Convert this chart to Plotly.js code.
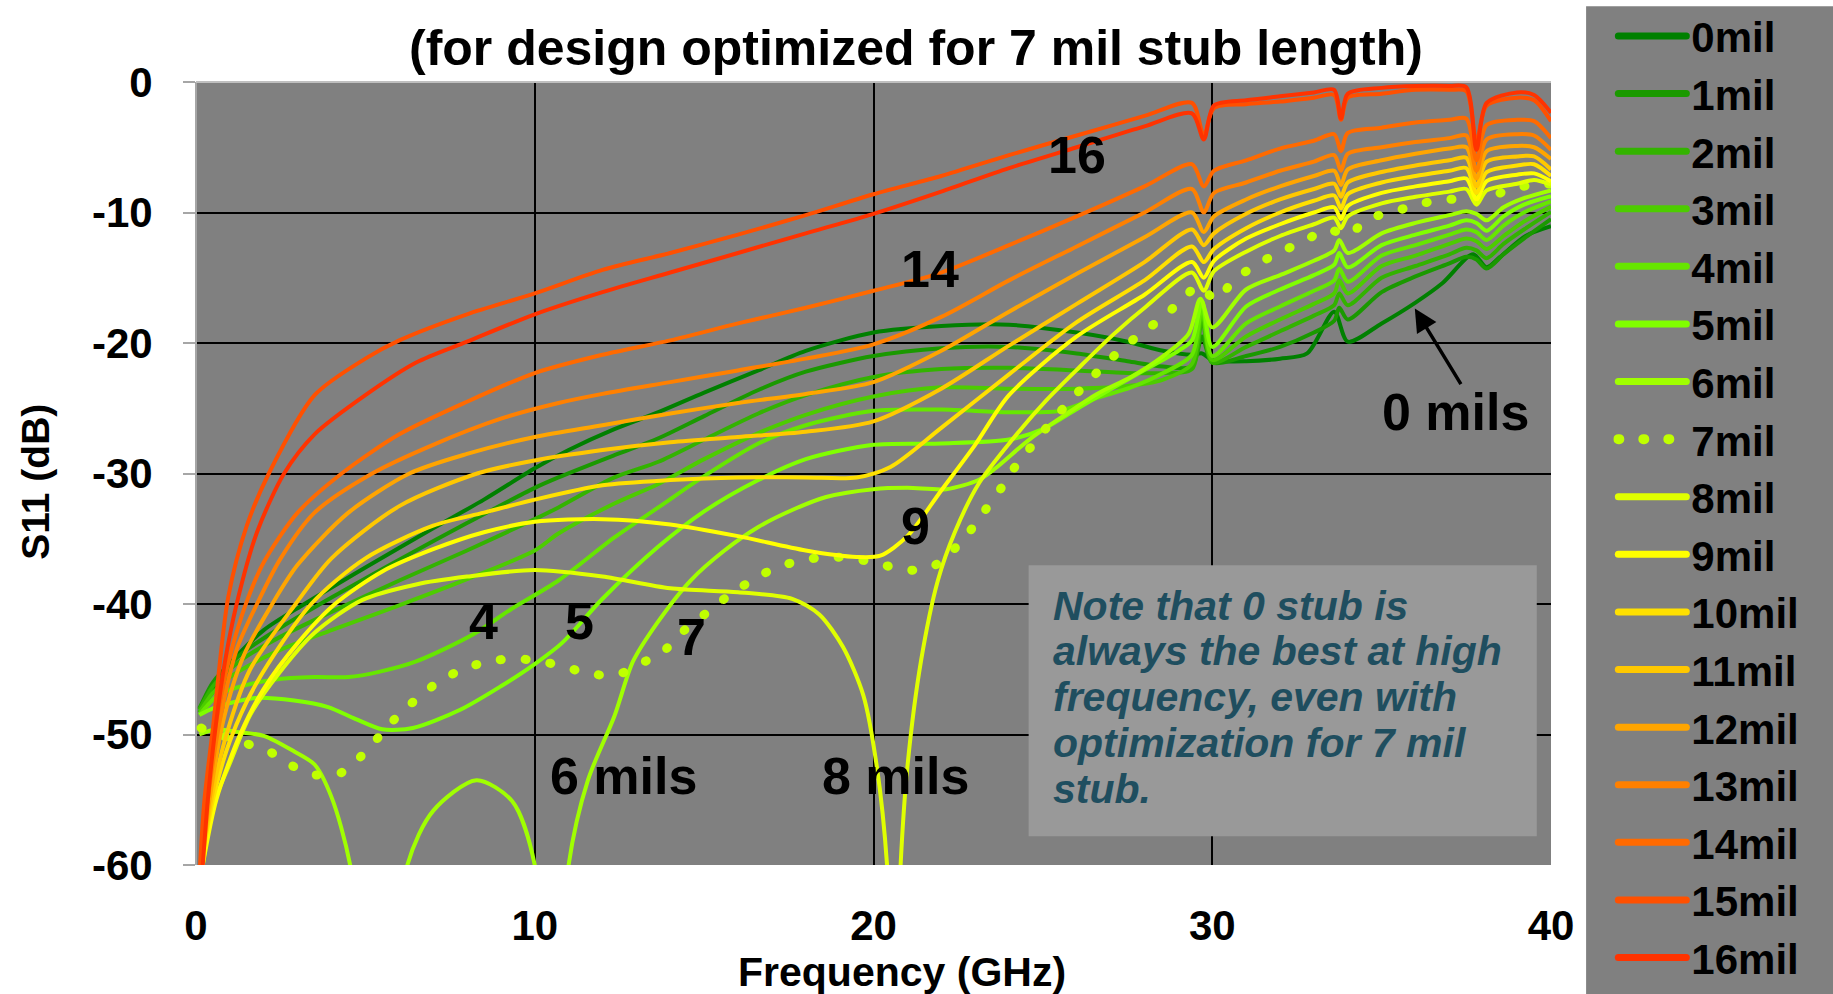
<!DOCTYPE html>
<html>
<head>
<meta charset="utf-8">
<script src="https://cdn.plot.ly/plotly-3.0.1.min.js"></script>
<style>
  html, body { margin: 0; padding: 0; background: #ffffff; }
  #chart { width: 1833px; height: 994px; }
  .legend .traces path.js-line { stroke-width: 7px !important; stroke-linecap: round; }
  .legend .traces:nth-child(8) path.js-line { stroke-width: 10px !important; }
  .scatterlayer .trace:nth-child(8) path.js-line { stroke-linecap: round; }
</style>
</head>
<body>
<div id="chart"></div>
<script>
// ---------- data ----------
const seriesNames = ['0mil','1mil','2mil','3mil','4mil','5mil','6mil','7mil','8mil',
                     '9mil','10mil','11mil','12mil','13mil','14mil','15mil','16mil'];
const seriesColors = ['#008000','#1a9900','#33b300','#4dcc00','#66e600','#80ff00','#a0ff00',
                      '#c0ff00','#e0ff00','#ffff00','#ffe000','#ffc800','#ffa500','#ff8000',
                      '#ff6a00','#ff5000','#ff3300'];

const freq0 = [0.1,0.3,0.7,1.2,2,3.2,5,7,8.5,10,11,12.35,13.65,15,16.6,18,20,22,24,26,27.5,28.55,29.4,29.7,30.0,31,32,32.8,33.6,34.0,35,36,36.8,37.7,38.1,38.5,39.25,40];
const s11_0 = [-48.3,-47.5,-45.6,-44.0,-42.0,-40.0,-37.2,-34.2,-32.0,-29.6,-28.2,-26.6,-25.3,-23.8,-22.1,-20.6,-19.2,-18.7,-18.6,-19.2,-19.9,-20.6,-20.9,-20.8,-21.3,-21.4,-21.2,-20.8,-17.6,-19.9,-18.5,-16.9,-15.4,-13.2,-14.2,-13.4,-11.8,-11.05];

const freqLow = [0.1,0.5,1,1.5,2.5,4,6,8,10,10.7,12.35,13.65,15,16.6,18,20,22,24,26,27.5,28.55,29.4,29.7,30.0,31,32,33,33.6,33.75,34.0,35,36,37,37.5,37.8,38.1,38.6,39.2,40];
const s11_1 = [-48,-46,-44.6,-43.5,-41.8,-39.5,-36.6,-33.8,-31.1,-30.3,-28.6,-27.3,-25.6,-23.6,-22.2,-21.0,-20.4,-20.3,-20.8,-21.4,-21.8,-21.8,-19.5,-21.5,-21.0,-20.3,-19.2,-18.3,-17.3,-18.2,-16.1,-14.9,-13.9,-13.4,-13.6,-14.3,-13.2,-12.0,-10.5];
const s11_2 = [-48.1,-46.3,-45.0,-44.0,-42.5,-40.6,-38.2,-35.9,-33.5,-32.6,-30.3,-29.1,-27.4,-25.4,-24.0,-22.6,-22.0,-21.9,-22.1,-22.3,-22.3,-22.0,-18.2,-21.5,-20.3,-19.1,-17.9,-17.1,-16.2,-17.1,-15.0,-14.1,-13.2,-12.7,-12.9,-13.5,-12.4,-11.3,-9.95];
const s11_3 = [-48.3,-46.8,-45.6,-44.8,-43.5,-42.0,-40.1,-38.1,-35.9,-34.6,-32.3,-30.8,-28.9,-26.9,-25.5,-24.1,-23.4,-23.5,-23.5,-23.3,-22.8,-21.6,-17.6,-21.3,-19.5,-18.2,-17.0,-16.2,-15.2,-16.2,-14.1,-13.3,-12.4,-12.0,-12.2,-12.8,-11.8,-10.7,-9.55];

const freq4 = [0.1,0.7,1.5,2.3,3.5,4.5,5.4,6.5,8.2,9.3,10.7,12.35,13.65,15,16.6,18,20,22,24,25.5,26.6,27.6,28.55,29.4,29.7,30.0,31,32,33,33.6,33.75,34.0,35,36,37,37.5,37.8,38.1,38.6,39.2,40];
const s11_4 = [-48.5,-46.9,-46.2,-45.8,-45.6,-45.6,-45.2,-44.4,-42.3,-40.4,-38.2,-34.9,-32.6,-30.2,-27.7,-26.3,-25.2,-25.1,-25.3,-25.2,-24.2,-23.4,-22.3,-20.9,-17.2,-21.0,-18.5,-17.2,-16.0,-15.2,-14.3,-15.3,-13.3,-12.5,-11.7,-11.3,-11.5,-12.1,-11.0,-10.0,-9.15];

const freq5 = [0.1,0.5,1.0,1.75,2.9,3.9,4.7,5.5,6.4,7.8,9,10,10.8,12,13.65,15,16.6,18,20,22,24,25,26.1,27.1,28.05,29.0,29.4,29.7,30.0,31,32,33,33.6,33.75,34.0,35,36,37,37.5,37.8,38.1,38.6,39.2,40];
const s11_5 = [-48.5,-48.0,-47.6,-47.2,-47.4,-47.9,-48.8,-49.6,-49.5,-48.1,-46.3,-44.6,-43.0,-39.6,-35.6,-32.9,-30.5,-28.9,-27.8,-27.7,-27.4,-26.6,-24.9,-23.4,-22.0,-20.6,-19.8,-16.8,-20.3,-17.2,-15.9,-14.8,-14.0,-13.1,-14.2,-12.5,-11.7,-11.0,-10.6,-10.8,-11.4,-10.3,-9.4,-8.75];

const freq6 = [0.1,0.6,1.2,2.0,2.9,3.5,4.0,4.55,5.4,6.24,7.0,8.28,9.33,10.0,10.5,11.0,11.57,12.35,12.9,13.6,14.6,15.6,16.6,17.6,18.6,20,21,22.15,23.1,23.6,24.6,25.6,26.6,27.6,28.55,29.3,29.65,30.0,31,32,33,33.6,33.75,34.0,35,36,37,37.5,37.8,38.1,38.6,39.2,40];
const s11_6 = [-50,-49.6,-49.8,-50.1,-51.3,-52.3,-54.8,-60,-80,-60,-55.85,-53.5,-55.1,-60,-80,-60,-53.5,-48.6,-44.4,-41.5,-38.2,-35.9,-34.1,-32.8,-31.8,-31.2,-31.1,-31.2,-30.5,-29.6,-27.4,-25.6,-23.9,-22.6,-21.0,-19.3,-16.6,-18.8,-15.9,-14.8,-13.7,-12.9,-12.1,-13.1,-11.6,-10.8,-10.2,-9.9,-10.1,-10.6,-9.6,-8.9,-8.3];

const freq7 = [0.15,1.0,2.16,2.84,3.55,4.31,4.9,5.44,5.98,6.55,7.19,7.89,8.63,9.41,10.2,10.98,11.74,12.5,13.26,13.85,14.4,15.06,15.7,16.34,17.05,17.8,18.6,19.36,20.15,20.93,21.7,22.3,22.85,23.3,23.8,24.2,24.7,25.2,25.74,26.28,26.85,27.44,28.05,28.65,29.24,29.63,30.1,30.63,31.3,31.95,32.7,33.4,34.0,34.6,35.4,36.2,36.9,37.6,38.2,38.9,39.6,40];
const s11_7 = [-49.5,-50.3,-51.3,-52.4,-53.1,-52.9,-51.6,-50.05,-48.5,-47.2,-45.9,-45.0,-44.4,-44.2,-44.4,-44.9,-45.4,-45.35,-44.4,-43.5,-42.05,-40.7,-39.4,-38.3,-37.3,-36.7,-36.4,-36.5,-36.9,-37.4,-37.2,-36.0,-34.4,-32.8,-31.0,-29.4,-27.8,-26.2,-24.6,-23.1,-21.6,-20.2,-19.0,-17.8,-16.3,-15.6,-16.7,-15.2,-14.0,-13.1,-12.2,-11.3,-11.7,-10.5,-9.9,-9.3,-9.0,-9.0,-8.8,-8.1,-7.9,-7.8];

const freq8 = [0.2,0.5,1.0,1.6,2.45,3.5,4.9,6.5,8,10,12,14,16,17.6,18.4,19.1,19.7,20.1,20.4,20.6,20.8,21.0,21.4,21.9,22.4,23.1,24.1,25.1,26.1,27.1,28.05,29.4,29.75,30.05,31,32,33,33.6,33.8,34.0,35,36,37,37.5,37.8,38.1,39,39.5,40];
const s11_8 = [-60,-55.5,-52.2,-48.5,-45.3,-42.2,-39.7,-38.5,-37.9,-37.4,-37.9,-38.8,-39.1,-39.6,-40.8,-43.3,-47.0,-52.5,-60,-75,-60,-52.5,-44.4,-38.2,-34.5,-30.8,-27.4,-24.4,-21.8,-19.3,-17.2,-14.6,-16.0,-14.5,-13.0,-11.8,-10.9,-10.4,-11.2,-10.3,-9.3,-8.8,-8.4,-8.2,-9.4,-8.3,-7.8,-7.5,-7.85];

const freq9 = [0.2,0.6,1.3,2,3,4.1,5.5,7,8.5,10,12,14,16,18,19.5,20.2,21,22,23,24,26,28,29.4,29.75,30.05,31,32,33,33.6,33.8,34.0,35,36,37,37.5,37.8,38.1,39,39.5,40];
const s11_9 = [-60,-55,-50,-46.5,-43,-40,-37.5,-35.8,-34.5,-33.7,-33.5,-33.9,-34.8,-35.9,-36.4,-36.3,-34.8,-31.3,-27.8,-24.0,-19.5,-16.3,-13.8,-15.0,-13.7,-12.0,-10.9,-10.0,-9.6,-10.5,-9.5,-8.5,-8.0,-7.6,-7.4,-9.0,-7.6,-7.1,-7.0,-7.6];

const freq10 = [0.15,0.5,1,1.8,3.4,5,7,8.5,10,12,14,16,18,19.5,20.5,22,24,26,28,29.4,29.75,30.05,31,32,33,33.6,33.8,34.0,35,36,37,37.5,37.8,38.1,39,39.5,40];
const s11_10 = [-60,-55,-50.5,-46,-40,-36.5,-34,-33,-32.0,-30.9,-30.5,-30.3,-30.3,-30.3,-29.5,-26.5,-22.4,-18.4,-15.2,-12.6,-13.8,-12.8,-11.2,-10.0,-9.1,-8.7,-9.7,-8.6,-7.7,-7.2,-6.8,-6.6,-8.5,-6.9,-6.4,-6.3,-7.2];

const freq11 = [0.15,0.45,0.9,1.6,2.94,4,6,8.3,10,12,14,16,18,20,22,24,26,28,29.4,29.75,30.05,31,32,33,33.6,33.8,34.0,35,36,37,37.5,37.8,38.1,39,39.5,40];
const s11_11 = [-60,-55,-50,-45,-40,-36.5,-32.5,-30,-29.0,-28.2,-27.6,-27.2,-26.8,-26.0,-23.5,-20.2,-17.0,-13.8,-11.3,-12.5,-11.6,-10.1,-9.0,-8.2,-7.8,-8.8,-7.7,-6.9,-6.4,-6.0,-5.8,-8.0,-6.1,-5.7,-5.7,-6.7];

const freq12 = [0.15,0.4,0.8,1.4,2.25,3,4.5,6.3,8,10,12,14,16,18,20,22,24,26,28,29.4,29.75,30.05,31,32,33,33.6,33.8,34.0,35,36,37,37.5,37.8,38.1,39,39.5,40];
const s11_12 = [-60,-55,-49,-44,-40,-37,-33,-30,-28.5,-27.2,-26.3,-25.4,-24.6,-23.9,-23.0,-20.6,-17.6,-14.7,-11.9,-10.0,-11.5,-10.3,-9.0,-8.0,-7.2,-6.8,-7.9,-6.7,-6.0,-5.5,-5.1,-5.0,-7.4,-5.3,-4.9,-5.0,-5.9];

const freq13 = [0.15,0.35,0.7,1.2,1.8,2.5,3.5,5.2,7,9,10.7,12,14,16,18,20,22,24,26,28,29.4,29.75,30.05,31,32,33,33.6,33.8,34.0,35,36,37,37.5,37.8,38.1,39,39.5,40];
const s11_13 = [-60,-55,-49,-43.5,-40,-36.5,-33,-30,-27.8,-25.8,-24.6,-23.9,-23.0,-22.1,-21.2,-20.1,-18.0,-15.2,-12.6,-10.0,-8.2,-10.0,-8.5,-7.7,-6.8,-6.1,-5.6,-6.8,-5.5,-5.0,-4.6,-4.3,-4.1,-6.8,-4.4,-4.0,-4.1,-5.2];

const freq14 = [0.15,0.3,0.6,1,1.5,2,3,4.3,6,8,10,12,14,16,18,20,22,24,26,28,29.4,29.75,30.05,31,32,33,33.6,33.8,34.0,35,36,37,37.5,37.8,38.1,39,39.5,40];
const s11_14 = [-60,-55,-49,-44,-39.8,-36.8,-33,-30,-27,-24.5,-22.3,-20.9,-19.8,-18.5,-17.3,-16.0,-14.6,-12.5,-10.3,-8.0,-6.3,-8.0,-6.8,-6.0,-5.1,-4.5,-4.0,-5.3,-3.9,-3.5,-3.1,-2.9,-2.8,-6.0,-3.3,-2.9,-3.0,-4.3];

const freq15 = [0.12,0.25,0.5,0.95,1.5,2.15,3.5,5,6,8,10,12,14,16,18,20,22,24,26,28,29.4,29.75,30.05,31,32,33,33.6,33.8,34.0,35,36,37,37.5,37.8,38.1,39,39.5,40];
const s11_15 = [-60,-55,-49.5,-39.5,-34,-30,-24,-21.2,-19.8,-17.8,-16.2,-14.4,-13.1,-11.7,-10.2,-8.6,-7.2,-5.6,-4.1,-2.6,-1.6,-4.1,-2.0,-1.7,-1.5,-1.2,-1.0,-2.9,-1.2,-0.9,-0.6,-0.6,-0.7,-4.6,-1.8,-1.2,-1.4,-3.0];

const freq16 = [0.2,0.35,0.55,0.85,1.2,1.8,2.6,3.5,5,6.5,8,10,12,14,16,18,20,22,24,26,28,29.4,29.75,30.05,31,32,33,33.6,33.8,34.0,35,36,37,37.5,37.8,38.1,39,39.5,40];
const s11_16 = [-60,-55,-50,-44.5,-40,-34.5,-30,-27,-24,-21.5,-19.9,-17.8,-16.1,-14.6,-13.1,-11.6,-10.1,-8.4,-6.6,-5.0,-3.4,-2.4,-4.4,-1.8,-1.4,-1.1,-0.8,-0.6,-2.8,-0.9,-0.45,-0.3,-0.3,-0.4,-5.2,-1.6,-0.8,-1.0,-2.35];

const xTickVals = [0, 10, 20, 30, 40];
const xTickText = ['0', '10', '20', '30', '40'];
const yTickVals = [0, -10, -20, -30, -40, -50, -60];
const yTickText = ['0', '-10', '-20', '-30', '-40', '-50', '-60'];

const curveLabels = ['16', '14', '9', '4', '5', '7', '6 mils', '8 mils', '0 mils'];
const curveLabelX = [26.0, 21.67, 21.25, 8.48, 11.31, 14.62, 12.62, 20.64, 37.19];
const curveLabelY = [-5.6, -14.34, -34.04, -41.32, -41.32, -42.54, -53.2, -53.2, -25.3];

const noteLines = ['Note that 0 stub is', 'always the best at high', 'frequency, even with',
                   'optimization for 7 mil', 'stub.'];

const titleText = '(for design optimized for 7 mil stub length)';
const xTitleText = 'Frequency (GHz)';
const yTitleText = 'S11 (dB)';

// ---------- build traces ----------
const xs = [freq0, freqLow, freqLow, freqLow, freq4, freq5, freq6, freq7, freq8, freq9,
            freq10, freq11, freq12, freq13, freq14, freq15, freq16];
const ys = [s11_0, s11_1, s11_2, s11_3, s11_4, s11_5, s11_6, s11_7, s11_8, s11_9,
            s11_10, s11_11, s11_12, s11_13, s11_14, s11_15, s11_16];

const FONT = 'Liberation Sans, Arial, sans-serif';

const traces = seriesNames.map(function (name, i) {
  const dotted = (name === '7mil');
  return {
    type: 'scatter',
    mode: 'lines',
    name: name,
    x: xs[i],
    y: ys[i],
    line: {
      color: seriesColors[i],
      width: dotted ? 9 : 4,
      dash: dotted ? '1px,24px' : 'solid',
      shape: 'spline',
      smoothing: 0.8
    },
    hoverinfo: 'skip'
  };
});

// ---------- annotations ----------
const annotations = [];
curveLabels.forEach(function (t, i) {
  annotations.push({
    text: t, x: curveLabelX[i], y: curveLabelY[i], xref: 'x', yref: 'y',
    showarrow: false, xanchor: 'center', yanchor: 'middle',
    font: { family: FONT, size: 52, color: '#000000', weight: 700 }
  });
});
annotations.push({
  text: '', x: 35.98, y: -17.36, xref: 'x', yref: 'y',
  showarrow: true, ax: 47, ay: 77, arrowhead: 2, arrowsize: 1.3, arrowwidth: 3.5,
  arrowcolor: '#000000', standoff: 0, startstandoff: 0
});
const noteY = [-40.17, -43.61, -47.14, -50.67, -54.18];
noteLines.forEach(function (t, i) {
  annotations.push({
    text: t, x: 25.23, y: noteY[i], xref: 'x', yref: 'y',
    showarrow: false, xanchor: 'left', yanchor: 'middle',
    font: { family: FONT, size: 41, color: '#1f4e5f', weight: 700, style: 'italic' }
  });
});
annotations.push({
  text: xTitleText, x: 0.5208, y: -0.137, xref: 'paper', yref: 'paper',
  showarrow: false, xanchor: 'center', yanchor: 'middle',
  font: { family: FONT, size: 41, color: '#000000', weight: 700 }
});
annotations.push({
  text: yTitleText, x: -0.1191, y: 0.489, xref: 'paper', yref: 'paper', textangle: -90,
  showarrow: false, xanchor: 'center', yanchor: 'middle',
  font: { family: FONT, size: 39, color: '#000000', weight: 700 }
});

const layout = {
  width: 1833,
  height: 994,
  margin: { l: 196, r: 282, t: 82, b: 129, autoexpand: false },
  paper_bgcolor: '#ffffff',
  plot_bgcolor: '#808080',
  font: { family: FONT, color: '#000000' },
  title: {
    text: titleText,
    x: 0.4997, xref: 'container', xanchor: 'center',
    y: 0.952, yref: 'container', yanchor: 'middle',
    font: { family: FONT, size: 50, color: '#000000', weight: 700 }
  },
  xaxis: {
    range: [0, 40],
    tickvals: xTickVals, ticktext: xTickText,
    ticks: '', showgrid: true, gridcolor: '#000000', gridwidth: 2,
    zeroline: true, zerolinecolor: '#a6a6a6', zerolinewidth: 2,
    showline: false,
    ticklabelstandoff: 32,
    tickfont: { family: FONT, size: 42, color: '#000000', weight: 700 },
    fixedrange: true
  },
  yaxis: {
    range: [-60, 0],
    tickvals: yTickVals, ticktext: yTickText,
    ticks: 'outside', ticklen: 12, tickwidth: 2, tickcolor: '#a6a6a6',
    showgrid: true, gridcolor: '#000000', gridwidth: 2,
    zeroline: true, zerolinecolor: '#bfbfbf', zerolinewidth: 2,
    showline: false,
    ticklabelstandoff: 22,
    tickfont: { family: FONT, size: 42, color: '#000000', weight: 700 },
    fixedrange: true
  },
  legend: {
    x: 1.046, xanchor: 'left', xref: 'paper',
    y: 1.102, yanchor: 'top', yref: 'paper',
    bgcolor: 'rgba(0,0,0,0)', borderwidth: 0,
    font: { family: FONT, size: 42, color: '#000000', weight: 700 },
    itemwidth: 68, tracegroupgap: 0, traceorder: 'normal',
    maxheight: 2000
  },
  shapes: [
    { type: 'rect', xref: 'paper', yref: 'paper', x0: 1.0259, x1: 1.215, y0: -0.17, y1: 1.0968,
      fillcolor: '#808080', line: { width: 0 }, layer: 'below' },
    { type: 'rect', xref: 'x', yref: 'y', x0: 24.58, x1: 39.58, y0: -57.79, y1: -37.03,
      fillcolor: '#999999', line: { width: 0 }, layer: 'above' }
  ],
  annotations: annotations,
  showlegend: true
};

Plotly.newPlot('chart', traces, layout, { displayModeBar: false, staticPlot: true }).then(function (gd) {
  const tr = gd.querySelectorAll('.scatterlayer .trace');
  if (tr[7]) {
    const p = tr[7].querySelector('path.js-line');
    if (p) p.style.strokeLinecap = 'round';
  }
});
</script>
</body>
</html>
